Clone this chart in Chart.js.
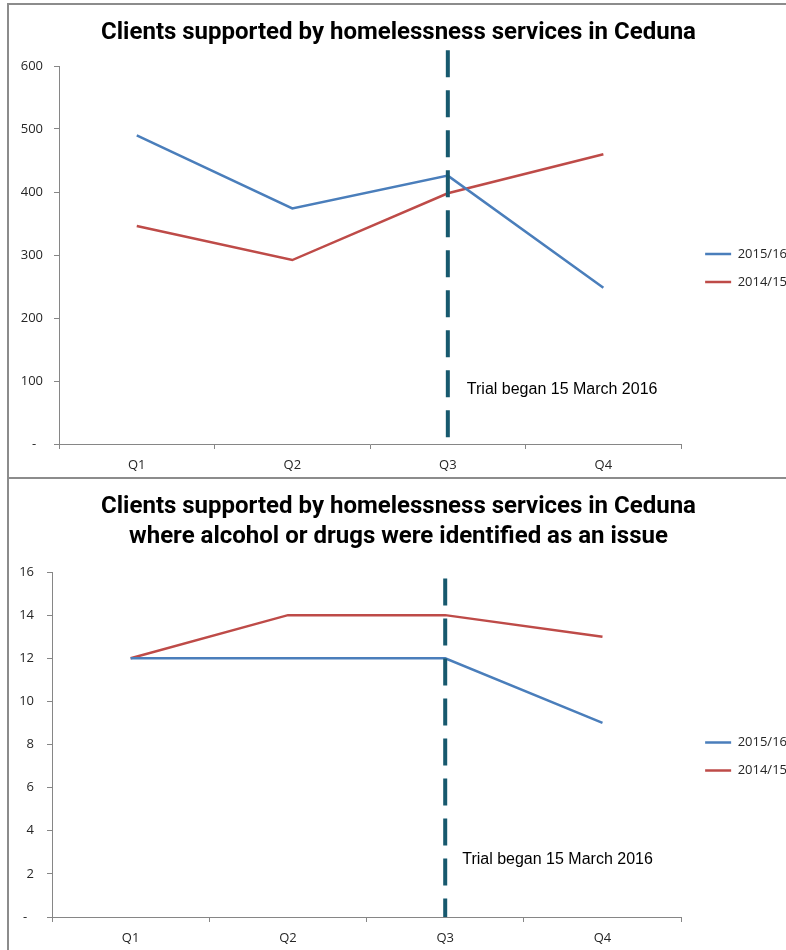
<!DOCTYPE html>
<html>
<head>
<meta charset="utf-8">
<title>Clients supported by homelessness services in Ceduna</title>
<script src="https://cdn.jsdelivr.net/npm/chart.js@4.4.1/dist/chart.umd.min.js"></script>
<style>
  html, body { margin: 0; padding: 0; background: #fff; overflow: hidden; }
  body { width: 786px; height: 950px; position: relative; }
  .frame { position: absolute; left: 7px; width: 900px; border-left: 2px solid #8c8c8c; border-top: 2px solid #8c8c8c; }
  #frame1 { top: 3px; height: 472px; }
  #frame2 { top: 477px; height: 480px; }
  canvas { position: absolute; left: 0; }
</style>
</head>
<body>
<div class="frame" id="frame1"><canvas id="chart1" width="779" height="472"></canvas></div>
<div class="frame" id="frame2"><canvas id="chart2" width="779" height="471"></canvas></div>
<script>
// data
const quarters = ['Q1', 'Q2', 'Q3', 'Q4'];
const seriesNames = ['2015/16', '2014/15'];
const clients1516 = [490, 374, 426, 248];
const clients1415 = [346, 292, 398, 460];
const alcohol1516 = [12, 12, 12, 9];
const alcohol1415 = [12, 14, 14, 13];
const trialLabel = 'Trial began 15 March 2016';

const blue = '#4a7ebb';
const red = '#be4b48';
const axisGrey = '#868686';
const labelColor = '#262626';
const tickFont = { family: "'Open Sans', sans-serif", size: 13 };
const titleFamily = "Roboto, 'DejaVu Sans Condensed', sans-serif";

// vertical dashed marker at Q3 with a text note beside it
const trialMarker = {
  id: 'trialMarker',
  afterLayout(chart) {
    // nudge the legend a little right of where Chart.js puts it
    chart.legend.left += 9;
    chart.legend.right += 9;
  },
  afterDatasetsDraw(chart, args, opts) {
    const { ctx, chartArea, scales: { x, y } } = chart;
    const px = x.getPixelForValue(2);
    ctx.save();
    ctx.strokeStyle = '#17596e';
    ctx.lineWidth = 4;
    ctx.setLineDash([27, 13]);
    ctx.beginPath();
    ctx.moveTo(px, y.getPixelForValue(opts.from));
    ctx.lineTo(px, chartArea.bottom);
    ctx.stroke();
    ctx.setLineDash([]);
    ctx.fillStyle = '#000';
    ctx.font = "16px 'Liberation Sans', Arial, sans-serif";
    ctx.textBaseline = 'middle';
    ctx.textAlign = 'left';
    ctx.fillText(trialLabel, px + opts.dx, y.getPixelForValue(opts.at));
    ctx.restore();
  }
};

function makeChart(id, title, a, b, yMax, yStep, axisWidth, labelPad, titlePad, legendShift, marker) {
  return new Chart(document.getElementById(id), {
    type: 'line',
    data: {
      labels: quarters,
      datasets: [
        { label: seriesNames[0], data: a, borderColor: blue, backgroundColor: blue, borderWidth: 2.5, pointRadius: 0, tension: 0 },
        { label: seriesNames[1], data: b, borderColor: red, backgroundColor: red, borderWidth: 2.5, pointRadius: 0, tension: 0 }
      ]
    },
    options: {
      responsive: false,
      animation: false,
      devicePixelRatio: 1,
      layout: { padding: 0 },
      plugins: {
        title: {
          display: true,
          text: title,
          color: '#000',
          font: { family: titleFamily, size: 24, weight: 'bold', lineHeight: 1.25 },
          padding: titlePad
        },
        legend: {
          position: 'right',
          // empty legend title only pushes the items down
          title: { display: true, text: '', font: { size: 20, lineHeight: 1.2 }, padding: { top: legendShift, bottom: 0 } },
          labels: {
            usePointStyle: true,
            pointStyle: 'line',
            pointStyleWidth: 26,
            boxWidth: 26,
            padding: 15,
            color: labelColor,
            font: tickFont
          }
        },
        tooltip: { enabled: false },
        trialMarker: marker
      },
      scales: {
        x: {
          offset: true,
          grid: { offset: true, drawOnChartArea: false, tickLength: 5, color: axisGrey },
          border: { color: axisGrey },
          ticks: { color: labelColor, font: tickFont, padding: 8 },
          afterFit(scale) { scale.height = 33; }
        },
        y: {
          min: 0,
          max: yMax,
          grid: { drawOnChartArea: false, tickLength: 5, color: axisGrey },
          border: { color: axisGrey },
          ticks: {
            stepSize: yStep,
            color: labelColor,
            font: tickFont,
            padding: labelPad,
            callback: v => v === 0 ? '-  ' : v
          },
          afterFit(scale) { scale.width = axisWidth; }
        }
      }
    },
    plugins: [trialMarker]
  });
}

makeChart('chart1', 'Clients supported by homelessness services in Ceduna',
  clients1516, clients1415, 600, 100, 50, 11, { top: 13, bottom: 18 }, 30,
  { from: 625, at: 87, dx: 19 });

makeChart('chart2', ['Clients supported by homelessness services in Ceduna', 'where alcohol or drugs were identified as an issue'],
  alcohol1516, alcohol1415, 16, 2, 43, 13, { top: 13, bottom: 20 }, 60,
  { from: 15.7, at: 2.65, dx: 17 });
</script>
</body>
</html>
